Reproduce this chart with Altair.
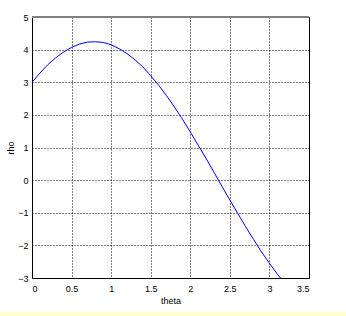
import altair as alt
import pandas as pd

theta = [0.0, 0.1, 0.2, 0.3, 0.4, 0.5, 0.6, 0.7, 0.8, 0.9, 1.0, 1.1, 1.2, 1.3, 1.4,
         1.5, 1.6, 1.7, 1.8, 1.9, 2.0, 2.1, 2.2, 2.3, 2.4, 2.5, 2.6, 2.7, 2.8, 2.9,
         3.0, 3.1, 3.14]
rho = [3.00, 3.28, 3.54, 3.75, 3.93, 4.07, 4.17, 4.23, 4.24, 4.22, 4.15, 4.03, 3.88,
       3.69, 3.47, 3.20, 2.91, 2.59, 2.24, 1.87, 1.48, 1.07, 0.66, 0.24, -0.19, -0.61,
       -1.02, -1.43, -1.82, -2.20, -2.55, -2.88, -3.00]
x_ticks = [0, 0.5, 1, 1.5, 2, 2.5, 3, 3.5]
y_ticks = [-3, -2, -1, 0, 1, 2, 3, 4, 5]

df = pd.DataFrame({"theta": theta, "rho": rho})

FONT = "Liberation Sans"

line = alt.Chart(df).mark_line(color="#0000ff", strokeWidth=1, clip=True).encode(
    x=alt.X("theta:Q", title="theta",
            scale=alt.Scale(domain=[0, 3.5], nice=False, zero=False),
            axis=alt.Axis(values=x_ticks, format="~g", grid=True, gridColor="black",
                          gridDash=[1, 2], gridOpacity=1, gridWidth=1,
                          ticks=False, domain=False, labelPadding=6,
                          labelFont=FONT, labelFontSize=9, labelColor="black",
                          titleFont=FONT, titleFontSize=9, titleFontWeight="normal",
                          titleColor="black", titlePadding=3)),
    y=alt.Y("rho:Q", title="rho",
            scale=alt.Scale(domain=[-3, 5], nice=False, zero=False),
            axis=alt.Axis(values=y_ticks, format="~g", grid=True, gridColor="black",
                          gridDash=[1, 2], gridOpacity=1, gridWidth=1,
                          ticks=False, domain=False, labelPadding=4,
                          labelFont=FONT, labelFontSize=9, labelColor="black",
                          titleFont=FONT, titleFontSize=9, titleFontWeight="normal",
                          titleColor="black", titlePadding=2)),
)

top_edge = alt.Chart(df).mark_rule(color="#808080", strokeWidth=1.5).encode(
    x=alt.value(0), x2=alt.value(277), y=alt.value(0)
)

band = alt.Chart(df).mark_rect(color="#ffffcc").encode(
    x=alt.value(-32), x2=alt.value(314), y=alt.value(295), y2=alt.value(299)
)

chart = alt.layer(band, line, top_edge).properties(
    width=277, height=261,
    autosize=alt.AutoSizeParams(type="none"),
    padding={"left": 32, "top": 17, "right": 37, "bottom": 38},
    background="white",
).configure_view(stroke="black", strokeWidth=1)

chart.save("out.html", embed_options={"renderer": "svg", "actions": False})
